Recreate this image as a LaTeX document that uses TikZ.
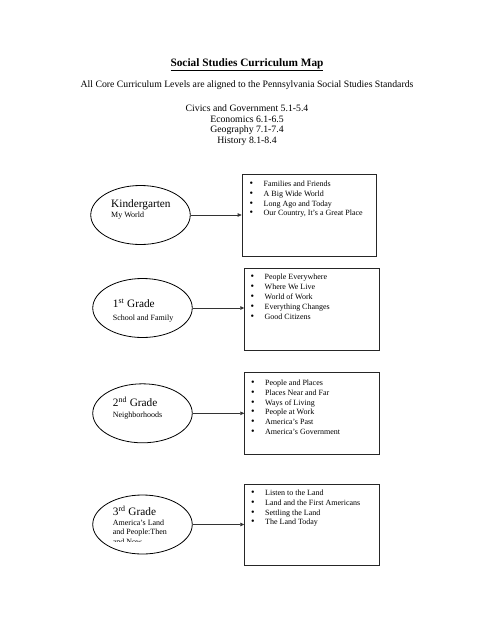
\documentclass[tikz,border=0pt]{standalone}
\usepackage{fontspec}
\setmainfont{Liberation Serif}
\usetikzlibrary{arrows.meta,shapes.geometric}
\tikzset{
  gradeoval/.style={draw=black, line width=0.8pt, ellipse, minimum width=99.5pt, minimum height=59pt, inner sep=0pt},
  topicbox/.style={draw=black!85, line width=1pt, inner sep=0pt},
  gtitle/.style={font=\fontsize{11.3}{13}\selectfont, inner sep=0pt, anchor=base west},
  gsub/.style={font=\fontsize{8}{10}\selectfont, inner sep=0pt, anchor=base west},
  itemlist/.style={font=\fontsize{8}{9.9}\selectfont, inner sep=0pt, anchor=north west, align=left},
  headtext/.style={font=\fontsize{9.75}{10.5}\selectfont, inner sep=0pt, align=center},
  link/.style={draw=black!80, line width=0.7pt, -{Triangle[length=4pt,width=3.5pt]}}
}
\newcommand{\bul}{\makebox[14pt][l]{\fontsize{10}{10}\selectfont •}}
\begin{document}
\begin{tikzpicture}[x=1pt,y=-1pt]
\useasboundingbox (0,0) rectangle (495,640);
\fill[white] (0,0) rectangle (495,640);
% header
\node[font=\fontsize{11.3}{13}\selectfont\bfseries, inner sep=0pt] (title) at (247,65) {\underline{Social Studies Curriculum Map}};
\node[headtext] (aligned) at (247,85) {All Core Curriculum Levels are aligned to the Pennsylvania Social Studies Standards};
\node[headtext, anchor=north] (standards) at (247,105) {Civics and Government 5.1-5.4\\Economics 6.1-6.5\\Geography 7.1-7.4\\History 8.1-8.4};
% boxes
\node[topicbox, minimum width=134.3pt, minimum height=81.7pt, anchor=north west] (b1) at (241.7,174.3) {};
\node[topicbox, minimum width=134.4pt, minimum height=81.7pt, anchor=north west] (b2) at (244.3,268.3) {};
\node[topicbox, minimum width=134.4pt, minimum height=82pt, anchor=north west] (b3) at (244.3,372) {};
\node[topicbox, minimum width=134.4pt, minimum height=81.3pt, anchor=north west] (b4) at (244.3,483.7) {};
% lists
\node[itemlist] (l1) at (249.5,180.5) {\bul Families and Friends\\\bul A Big Wide World\\\bul Long Ago and Today\\\bul Our Country, It’s a Great Place};
\node[itemlist] (l2) at (250.5,273.9) {\bul People Everywhere\\\bul Where We Live\\\bul World of Work\\\bul Everything Changes\\\bul Good Citizens};
\node[itemlist] (l3) at (251,379.5) {\bul People and Places\\\bul Places Near and Far\\\bul Ways of Living\\\bul People at Work\\\bul America’s Past\\\bul America’s Government};
\node[itemlist] (l4) at (251,489.5) {\bul Listen to the Land\\\bul Land and the First Americans\\\bul Settling the Land\\\bul The Land Today};
% ovals
\node[gradeoval] (e1) at (140.5,215) {};
\node[gradeoval] (e2) at (142.5,308) {};
\node[gradeoval] (e3) at (142.5,413.3) {};
\node[gradeoval] (e4) at (142.5,524.5) {};
% oval texts
\node[gtitle] (t1) at (111,207.7) {Kindergarten};
\node[gsub] (s1) at (111,217.7) {My World};
\node[gtitle] (t2) at (112.7,307.7) {1\textsuperscript{st} Grade};
\node[gsub] (s2) at (112.7,320.4) {School and Family};
\node[gtitle] (t3) at (112.7,406.4) {2\textsuperscript{nd} Grade};
\node[gsub] (s3) at (112.7,417) {Neighborhoods};
\node[gtitle] (t4) at (112.7,515.4) {3\textsuperscript{rd} Grade};
\begin{scope}
\clip (100,518) rectangle (190,541.6);
\node[gsub, anchor=north west, align=left, font=\fontsize{8}{9.4}\selectfont] (s4) at (112.7,519.5) {America’s Land\\and People:Then\\and Now};
\end{scope}
% links
\draw[link] (e1.east) -- (e1.east -| b1.west);
\draw[link] (e2.east) -- (e2.east -| b2.west);
\draw[link] (e3.east) -- (e3.east -| b3.west);
\draw[link] (e4.east) -- (e4.east -| b4.west);
\end{tikzpicture}
\end{document}
